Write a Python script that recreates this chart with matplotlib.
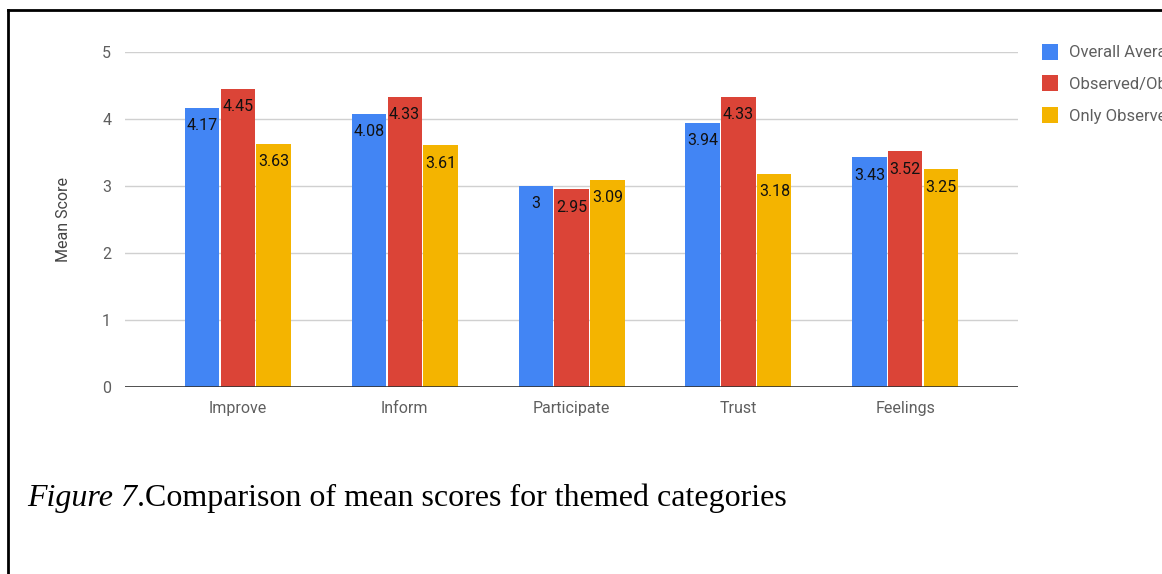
import numpy as np
import matplotlib.pyplot as plt
from matplotlib.lines import Line2D

plt.rcParams['font.family'] = ['Roboto', 'DejaVu Sans']

# Mean scores per themed category
categories = ['Improve', 'Inform', 'Participate', 'Trust', 'Feelings']
series_names = ['Overall Average', 'Observed/Observing', 'Only Observed']
overall = [4.17, 4.08, 3.00, 3.94, 3.43]
observed_observing = [4.45, 4.33, 2.95, 4.33, 3.52]
only_observed = [3.63, 3.61, 3.09, 3.18, 3.25]
value_labels = [
    ['4.17', '4.08', '3', '3.94', '3.43'],
    ['4.45', '4.33', '2.95', '4.33', '3.52'],
    ['3.63', '3.61', '3.09', '3.18', '3.25'],
]

colors = ['#4285F4', '#DB4437', '#F4B400']

fig = plt.figure(figsize=(11.62, 5.74), dpi=100)
ax = fig.add_axes([0.1076, 0.3258, 0.7685, 0.5836])

x = np.arange(len(categories))
width = 0.205
step = 0.215
for i, (vals, name, col) in enumerate(zip([overall, observed_observing, only_observed], series_names, colors)):
    bars = ax.bar(x + (i - 1) * step, vals, width, color=col, label=name, zorder=3)
    for b, txt in zip(bars, value_labels[i]):
        ax.annotate(txt, (b.get_x() + b.get_width() / 2, b.get_height()),
                    xytext=(0, -7.5), textcoords='offset points',
                    ha='center', va='top', fontsize=11.5, color='#111111', zorder=4)

ax.set_ylim(0, 5)
ax.set_xlim(-0.675, 4.675)
ax.set_yticks(range(6))
ax.set_xticks(x)
ax.set_xticklabels(categories)
ax.tick_params(axis='both', length=0, labelsize=11.5, labelcolor='#5f5f5f')
ax.tick_params(axis='y', pad=10)
ax.tick_params(axis='x', pad=10)
ax.grid(axis='y', color='#d0d0d0', linewidth=1, zorder=0)
ax.axhline(0, color='#333333', linewidth=1.2, zorder=5)
for s in ax.spines.values():
    s.set_visible(False)
ax.set_ylabel('Mean Score', fontsize=11.5, color='#444444', labelpad=22)

ax.legend(loc='upper left', bbox_to_anchor=(1.01, 1.07), frameon=False,
          fontsize=12, labelcolor='#5f5f5f', handlelength=0.95, handleheight=1.1,
          labelspacing=0.9, handletextpad=0.65)

# caption: italic "Figure 7" followed by regular text
cap_y = 1 - 506 / 574
t1 = fig.text(0.023, cap_y, 'Figure 7', fontsize=23, family='Liberation Serif',
              style='italic', va='baseline')
fig.canvas.draw()
bb = t1.get_window_extent()
fig.text(bb.x1 / fig.bbox.width, cap_y, '.Comparison of mean scores for themed categories',
         fontsize=23, family='Liberation Serif', va='baseline')

# page frame
fig.add_artist(Line2D([0.007, 1.0], [0.982, 0.982], color='black', linewidth=2))
fig.add_artist(Line2D([0.007, 0.007], [0.0, 0.982], color='black', linewidth=2))

fig.savefig('out.png', dpi=100)
